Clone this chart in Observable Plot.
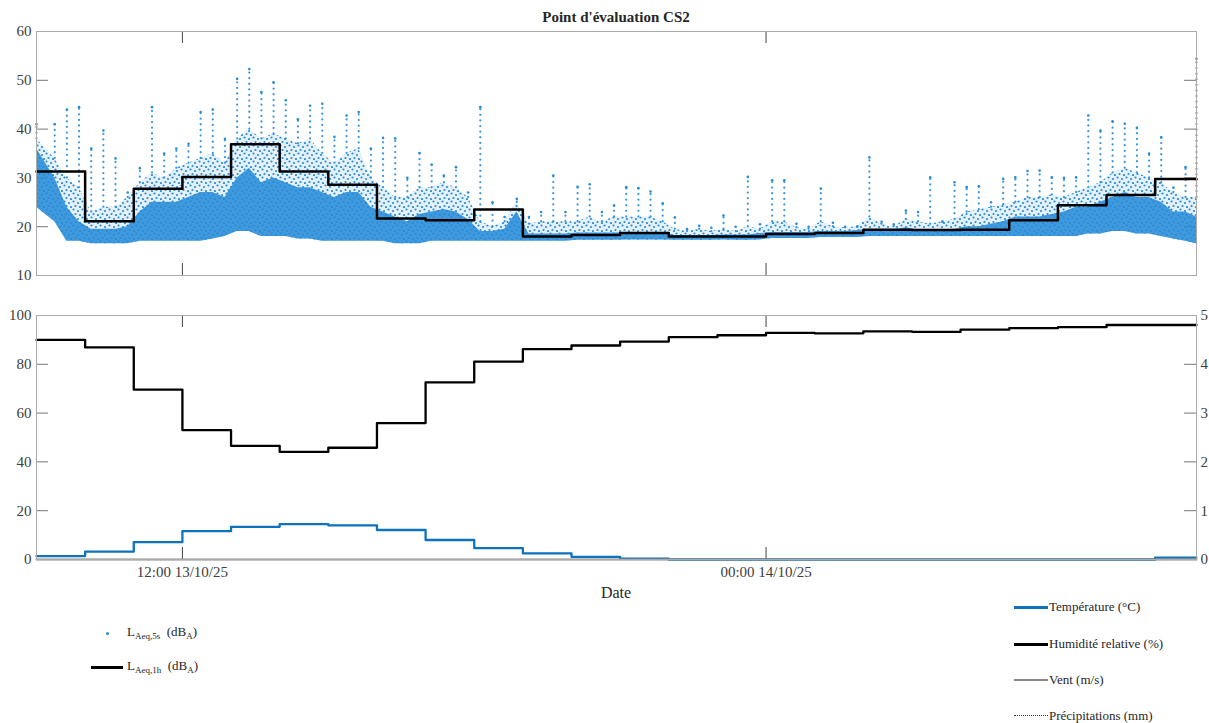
<!DOCTYPE html>
<html><head><meta charset="utf-8">
<script src="https://cdn.jsdelivr.net/npm/d3@7"></script>
<script src="https://cdn.jsdelivr.net/npm/@observablehq/plot@0.6"></script>
<style>
body{margin:0;background:#fff;font-family:"Liberation Serif","Times New Roman",serif;}
#wrap{position:relative;width:1209px;height:723px;overflow:hidden;background:#fff;}
.abs{position:absolute;}
#title{left:36px;width:1160px;top:9px;text-align:center;font-weight:bold;font-size:15px;color:#262626;}
#date{left:36px;width:1160px;top:584px;text-align:center;font-size:16px;color:#262626;}
.lg{font-size:13px;color:#262626;white-space:nowrap;line-height:16px;}
.lg sub{font-size:9px;vertical-align:-3px;}
.sw{position:absolute;}
</style></head><body>
<div id="wrap">
 <div id="topPanel" class="abs" style="left:0;top:0"></div>
 <div id="botPanel" class="abs" style="left:0;top:290px"></div>
 <div id="title" class="abs">Point d'évaluation CS2</div>
 <div id="date" class="abs">Date</div>
 <div class="sw" style="left:106px;top:632px;width:3px;height:3px;border-radius:50%;background:#288cd7"></div>
 <div class="abs lg" style="left:127px;top:624px">L<sub>Aeq,5s</sub>&nbsp; (dB<sub>A</sub>)</div>
 <div class="sw" style="left:91px;top:666px;width:32px;height:3px;background:#000"></div>
 <div class="abs lg" style="left:127px;top:658px">L<sub>Aeq,1h</sub>&nbsp; (dB<sub>A</sub>)</div>
 <div class="sw" style="left:1014px;top:606px;width:34px;height:3px;background:#0f72bd"></div>
 <div class="abs lg" style="left:1049px;top:599px">Température (°C)</div>
 <div class="sw" style="left:1014px;top:643px;width:34px;height:3px;background:#000"></div>
 <div class="abs lg" style="left:1049px;top:636px">Humidité relative (%)</div>
 <div class="sw" style="left:1014px;top:679px;width:34px;height:2px;background:#8a8a8a"></div>
 <div class="abs lg" style="left:1049px;top:672px">Vent (m/s)</div>
 <div class="sw" style="left:1014px;top:715px;width:34px;height:0;border-top:1px dotted #333"></div>
 <div class="abs lg" style="left:1049px;top:708px">Précipitations (mm)</div>
</div>
<script>
// ---------- DATA ----------
const startTime = new Date(Date.UTC(2025, 9, 13, 9, 0));
const endTime = new Date(Date.UTC(2025, 9, 14, 8, 51));
const xTickTimes = [new Date(Date.UTC(2025, 9, 13, 12, 0)), new Date(Date.UTC(2025, 9, 14, 0, 0))];
const topYTicks = [10, 20, 30, 40, 50, 60];
const botYTicks = [0, 20, 40, 60, 80, 100];
const rightTicks = [0, 1, 2, 3, 4, 5];

// hourly values, starting 09:00 13/10/25
const laeq1h = [31.3, 21.1, 27.8, 30.2, 36.9, 31.3, 28.6, 21.7, 21.3, 23.5, 18.0, 18.3,
                18.7, 18.0, 18.0, 18.5, 18.7, 19.4, 19.3, 19.4, 21.3, 24.4, 26.5, 29.8];
const humidity = [90.0, 86.9, 69.6, 53.0, 46.6, 44.1, 45.8, 55.9, 72.6, 81.1, 86.2, 87.7,
                  89.3, 91.1, 91.9, 92.9, 92.7, 93.5, 93.3, 94.2, 94.8, 95.2, 96.1, 96.1];
const temperature = [1.4, 3.2, 7.1, 11.6, 13.4, 14.5, 14.0, 12.1, 8.0, 4.7, 2.5, 1.1,
                     0.3, 0, 0, 0, 0, 0, 0, 0, 0, 0, 0, 0.8];
const wind = [0, 0, 0, 0, 0, 0, 0, 0, 0, 0, 0, 0, 0, 0, 0, 0, 0, 0, 0, 0, 0, 0, 0, 0];
const rain = [0, 0, 0, 0, 0, 0, 0, 0, 0, 0, 0, 0, 0, 0, 0, 0, 0, 0, 0, 0, 0, 0, 0, 0];

// LAeq,5s cloud summarised per 15-minute bin
const laeqLow = [24, 21, 17, 17,  16.5, 16.5, 16.5, 16.5,  17, 17, 17, 17,  17, 17, 17.5, 18,
  19, 19, 18, 18,  18, 17.5, 17.5, 17,  17, 17, 17, 17,  17, 16.5, 16.5, 16.5,
  17, 17, 17, 17,  17, 17, 17, 17,  17, 17, 17, 17,  17.2, 17.2, 17.2, 17.2,
  17.3, 17.3, 17.3, 17.3,  17.2, 17.2, 17.2, 17.2,  17.3, 17.2, 17.2, 17.3,  17.6, 17.6, 17.6, 17.6,
  17.8, 17.8, 17.8, 17.8,  18, 18, 18, 18,  18, 18, 18, 18,  18, 18, 18, 18,
  18, 18, 18, 18,  18, 18, 18.5, 18.5,  19, 19, 18.5, 18.5,  18, 17.5, 17, 16.5];
const laeqDense = [36, 30, 24, 21,  19.5, 19.5, 19.5, 20,  23, 25, 25, 25,  26, 27, 27, 26,
  30, 32, 29, 30,  29, 28, 28, 27,  26, 27, 27, 24,  23, 22, 21, 22.5,
  23, 23.5, 23, 21.5,  19, 19, 19.5, 23,  18.5, 18.5, 18.5, 18.5,  18.7, 18.7, 18.7, 18.7,
  18.8, 18.8, 18.8, 18.8,  18.2, 18.2, 18.2, 18.2,  18.3, 18.3, 18.3, 18.6,  18.8, 18.8, 18.8, 18.8,
  19, 19, 19, 19.2,  19.5, 19.3, 19.3, 19.8,  19.3, 19.3, 19.3, 19.5,  20, 20, 20.5, 21,
  22, 22, 22, 22.5,  23, 24, 24, 25,  26, 27, 26, 26,  25, 23, 23, 22];
const laeqSparse = [38, 34, 30, 28,  23, 24, 24, 26,  29, 31, 30, 32,  33, 34, 35, 33,
  38, 40, 38, 39,  38, 37, 38, 35,  33, 35, 36, 30,  28, 26, 26, 28,
  28, 29, 28, 26,  21, 20, 21, 25,  20.5, 21, 21, 21,  21, 22, 21, 22,
  22, 22, 22, 21,  19.5, 19, 19.5, 19,  19.5, 19, 20, 19.5,  21, 21, 19.8, 19.5,
  21, 20, 19.8, 20,  22, 20.5, 20, 21.5,  21, 20.5, 21, 21.5,  23, 23.5, 24, 24.5,
  25, 26, 26, 26.5,  26, 27, 28, 29,  31, 32, 31, 30,  29, 27, 26, 26];
const laeqPeak = [41, 41, 44, 44.5,  36, 39.7, 34, 27,  32, 44.5, 35, 36,  37, 43.5, 44, 38,
  50.3, 52.3, 47.6, 49.6,  45.9, 42, 44.8, 45.2,  38.4, 42.8, 43.5, 36,  38.2, 38.1, 30, 35.1,
  32.7, 30.5, 32.2, 27,  44.5, 25, 22, 25.7,  22, 23, 30.5, 23,  28.2, 28.7, 23, 24.3,
  28.1, 27.9, 27.2, 24.8,  21.9, 19.5, 20.2, 19.8,  22.3, 20, 30.2, 20.5,  29.5, 29.5, 20.6, 20,
  27.8, 20.8, 20, 20,  34.2, 21, 20.5, 23.3,  23, 30.1, 21, 29.1,  28.1, 28.3, 25, 29.8,
  30.1, 31.4, 31.5, 30.1,  30, 30.1, 42.8, 39.7,  41.6, 41.1, 40.2, 35,  38.3, 28, 32.2, 54.4];

// ---------- TABLES ----------
const MIN = 60000;
const nb = laeqLow.length;
function binTime(i) {
  if (i === 0) return startTime;
  if (i === nb - 1) return endTime;
  return new Date(+startTime + (i * 15 + 7.5) * MIN);
}
const bins = laeqLow.map((lo, i) => ({t: binTime(i), lo, hi: laeqDense[i], mid: laeqSparse[i], pk: laeqPeak[i]}));
function hourly(arr, k = 1) {
  const rows = arr.map((v, i) => ({t: new Date(+startTime + i * 60 * MIN), v: v * k}));
  rows.push({t: endTime, v: arr[arr.length - 1] * k});
  return rows;
}
const C = "#288cd7";
const fmt = d3.utcFormat("%H:%M %d/%m/%y");
const W = 1209, FW = 1160;
const baseStyle = {fontFamily: "'Liberation Serif','Times New Roman',serif", fontSize: "15px", color: "#404040", background: "transparent", overflow: "visible"};

// ---------- TOP PANEL ----------
const topChart = Plot.plot({
  width: W, height: 290, marginLeft: 36, marginRight: 13, marginTop: 31, marginBottom: 15,
  style: baseStyle,
  x: {type: "utc", domain: [startTime, endTime], axis: null},
  y: {domain: [10, 60], axis: null},
  marks: [
    Plot.tickY(topYTicks, {y: d => d, insetRight: FW - 12, stroke: "#777"}),
    Plot.tickY(topYTicks, {y: d => d, insetLeft: FW - 12, stroke: "#777"}),
    Plot.tickX(xTickTimes, {x: d => d, insetTop: 232, stroke: "#444"}),
    Plot.tickX(xTickTimes, {x: d => d, insetBottom: 232, stroke: "#444"}),
    Plot.areaY(bins, {x: "t", y1: "lo", y2: "mid", fill: "url(#sparseDots)"}),
    Plot.areaY(bins, {x: "t", y1: "lo", y2: "hi", fill: C, fillOpacity: 0.88}),
    Plot.ruleX(bins, {x: "t", y1: "mid", y2: "pk", stroke: C, strokeWidth: 2.2, strokeDasharray: "0.1 5.5", strokeLinecap: "round", strokeOpacity: 0.9}),
    Plot.dot(bins, {x: "t", y: "pk", r: 1.3, fill: C}),
    Plot.line(hourly(laeq1h), {x: "t", y: "v", curve: "step-after", stroke: "#000", strokeWidth: 2.5}),
    Plot.frame({stroke: "#aaa"}),
    Plot.axisY(topYTicks, {tickSize: 0, tickPadding: 5, fill: "#404040", label: null})
  ]
});
// dot pattern used to fill the sparse part of the 5-s cloud
d3.select(topChart).insert("defs", ":first-child").html(
  `<pattern id="sparseDots" patternUnits="userSpaceOnUse" width="9" height="8">
     <rect width="9" height="8" fill="${C}" fill-opacity="0.12"></rect>
     <circle cx="1.5" cy="1.5" r="1.1" fill="${C}"></circle>
     <circle cx="6" cy="3" r="1.1" fill="${C}"></circle>
     <circle cx="3.5" cy="6" r="1.1" fill="${C}"></circle>
     <circle cx="8" cy="7" r="1.1" fill="${C}"></circle>
   </pattern>`);
document.getElementById("topPanel").appendChild(topChart);

// ---------- BOTTOM PANEL ----------
const botChart = Plot.plot({
  width: W, height: 314, marginLeft: 36, marginRight: 13, marginTop: 25, marginBottom: 45,
  style: baseStyle,
  x: {type: "utc", domain: [startTime, endTime], axis: null},
  y: {domain: [0, 100], axis: null},
  marks: [
    Plot.tickY(botYTicks, {y: d => d, insetRight: FW - 12, stroke: "#777"}),
    Plot.tickY(botYTicks, {y: d => d, insetLeft: FW - 12, stroke: "#777"}),
    Plot.tickX(xTickTimes, {x: d => d, insetTop: 232, stroke: "#444"}),
    Plot.tickX(xTickTimes, {x: d => d, insetBottom: 232, stroke: "#444"}),
    Plot.line(hourly(humidity), {x: "t", y: "v", curve: "step-after", stroke: "#000", strokeWidth: 2.3}),
    Plot.line(hourly(temperature), {x: "t", y: "v", curve: "step-after", stroke: "#0f72bd", strokeWidth: 2.3}),
    Plot.line(hourly(wind, 20), {x: "t", y: "v", curve: "step-after", stroke: "#8a8a8a", strokeWidth: 2}),
    Plot.line(hourly(rain, 20), {x: "t", y: "v", curve: "step-after", stroke: "#333", strokeWidth: 1, strokeDasharray: "1 1"}),
    Plot.frame({stroke: "#aaa"}),
    Plot.axisY(botYTicks, {tickSize: 0, tickPadding: 5, fill: "#404040", label: null}),
    Plot.axisY(rightTicks.map(d => d * 20), {anchor: "right", tickSize: 0, tickPadding: 4, tickFormat: d => d / 20, fill: "#404040", label: null}),
    Plot.axisX(xTickTimes, {tickSize: 0, tickPadding: 7, tickFormat: fmt, label: null, fill: "#404040"})
  ]
});
document.getElementById("botPanel").appendChild(botChart);
</script>
</body></html>
